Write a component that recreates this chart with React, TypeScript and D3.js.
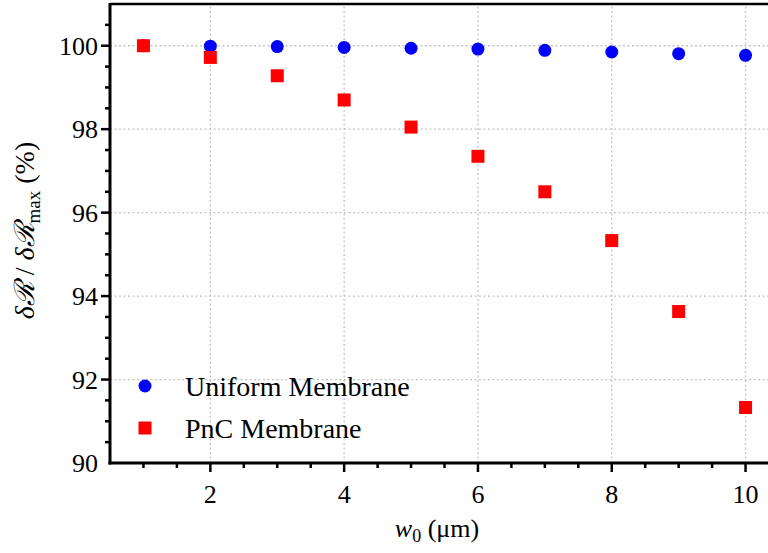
import React from "react";
import * as d3 from "d3";

const widths = [1, 2, 3, 4, 5, 6, 7, 8, 9, 10];
const uniformValues = [100, 99.99, 99.98, 99.96, 99.94, 99.92, 99.89, 99.85, 99.81, 99.77];
const pncValues = [100, 99.72, 99.28, 98.7, 98.05, 97.35, 96.5, 95.33, 93.63, 91.33];
const xTickLabels = [2, 4, 6, 8, 10];
const yTickLabels = [90, 92, 94, 96, 98, 100];
const seriesNames = ["Uniform Membrane", "PnC Membrane"];

const W = 768;
const H = 553;
const left = 110;
const top = 4;
const bottom = 463;
const rightEdge = 779;

const FONT = "Liberation Serif, DejaVu Serif, serif";

export default function App() {
  const x = d3.scaleLinear().domain([0.5, 10.5]).range([left, rightEdge]);
  const y = d3.scaleLinear().domain([90, 101]).range([bottom, top]);

  const xMinor = d3.range(1, 10.51, 0.5);
  const yMinor = d3.range(90.5, 100.51, 0.5);

  const sq = 13;
  const r = 6.5;
  const txt = { fontFamily: FONT };

  return (
    <svg
      width={W}
      height={H}
      style={{ position: "absolute", left: 0, top: 0, background: "#fff", fontFamily: FONT }}
    >
      {/* grid */}
      <g stroke="#c4c4c4" strokeWidth={1.3} strokeDasharray="2,2.5">
        {xTickLabels.map((v) => (
          <line key={"gx" + v} x1={x(v)} x2={x(v)} y1={bottom} y2={top} />
        ))}
        {yTickLabels.slice(1).map((v) => (
          <line key={"gy" + v} x1={left} x2={W} y1={y(v)} y2={y(v)} />
        ))}
      </g>

      {/* top frame */}
      <line x1={left} x2={W} y1={top} y2={top} stroke="#000" strokeWidth={2.5} />

      {/* ticks */}
      <g stroke="#000" strokeWidth={2.5}>
        {xMinor.map((v) => {
          const major = xTickLabels.includes(v);
          return <line key={"xt" + v} x1={x(v)} x2={x(v)} y1={bottom} y2={bottom + (major ? 9 : 5)} />;
        })}
        {yMinor.map((v) => {
          const major = yTickLabels.includes(v);
          return <line key={"yt" + v} x1={left} x2={left - (major ? 9 : 5)} y1={y(v)} y2={y(v)} />;
        })}
      </g>

      {/* axes */}
      <line x1={left} x2={left} y1={top - 1} y2={bottom + 1.5} stroke="#000" strokeWidth={3} />
      <line x1={left - 1.5} x2={W} y1={bottom} y2={bottom} stroke="#000" strokeWidth={3} />

      {/* tick labels */}
      <g fontSize={26} fill="#000" style={txt}>
        {xTickLabels.map((v) => (
          <text key={"xl" + v} x={x(v)} y={bottom + 40} textAnchor="middle">
            {v}
          </text>
        ))}
        {yTickLabels.map((v) => (
          <text key={"yl" + v} x={left - 12} y={y(v)} dy="0.35em" textAnchor="end">
            {v}
          </text>
        ))}
      </g>

      {/* axis titles */}
      <text x={437} y={537} fontSize={26} textAnchor="middle" fill="#000" style={txt}>
        <tspan fontStyle="italic">w</tspan>
        <tspan fontSize={18} dy={5}>0</tspan>
        <tspan dy={-5}> (μm)</tspan>
      </text>
      <text
        transform={`translate(34, ${(top + bottom) / 2 - 3}) rotate(-90)`}
        fontSize={28}
        textAnchor="middle"
        fill="#000"
        style={txt}
      >
        <tspan fontStyle="italic">δℛ</tspan>
        <tspan> / </tspan>
        <tspan fontStyle="italic">δℛ</tspan>
        <tspan fontSize={19} dy={6}>max</tspan>
        <tspan dy={-6}> (%)</tspan>
      </text>

      {/* series */}
      <g fill="#0000ff">
        {widths.map((w, i) => (
          <circle key={"u" + w} cx={x(w)} cy={y(uniformValues[i])} r={r} />
        ))}
      </g>
      <g fill="#ff0000">
        {widths.map((w, i) => (
          <rect key={"p" + w} x={x(w) - sq / 2} y={y(pncValues[i]) - sq / 2} width={sq} height={sq} />
        ))}
      </g>

      {/* legend */}
      <circle cx={145} cy={386} r={r} fill="#0000ff" />
      <text x={185} y={386} dy="0.35em" fontSize={28} fill="#000" style={txt}>
        {seriesNames[0]}
      </text>
      <rect x={145 - sq / 2} y={428 - sq / 2} width={sq} height={sq} fill="#ff0000" />
      <text x={185} y={428} dy="0.35em" fontSize={28} fill="#000" style={txt}>
        {seriesNames[1]}
      </text>
    </svg>
  );
}
